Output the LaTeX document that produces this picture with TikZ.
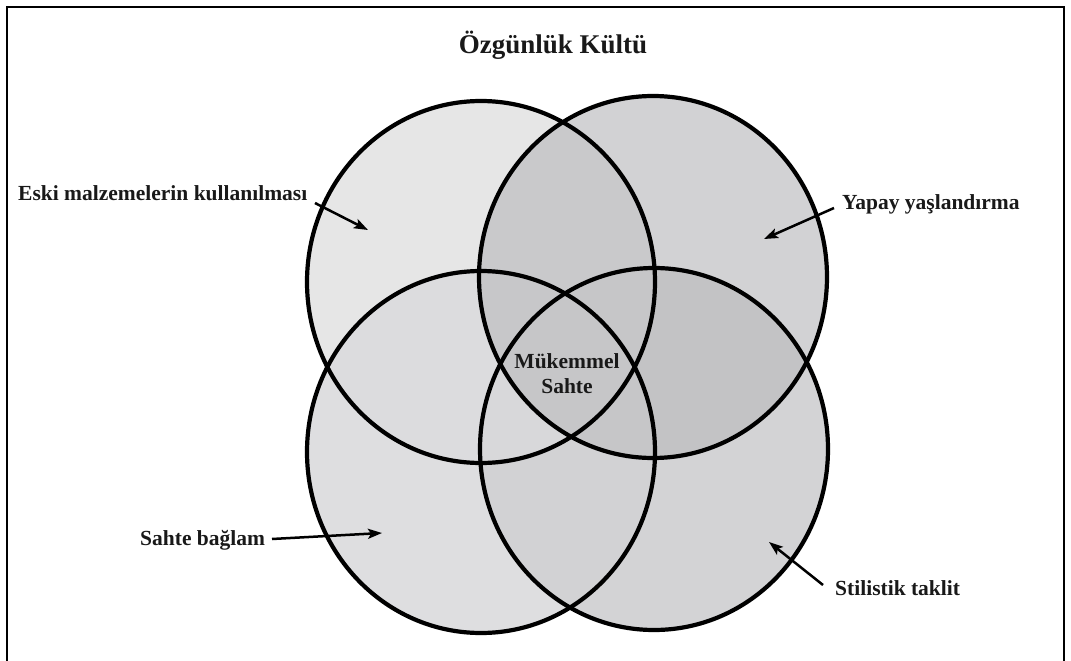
\documentclass[tikz,border=0pt]{standalone}
\usepackage{fontspec}
\setmainfont{Liberation Serif}
\usetikzlibrary{arrows.meta}
\definecolor{cTL}{RGB}{230,230,230}
\definecolor{cTR}{RGB}{210,210,212}
\definecolor{cBL}{RGB}{222,222,224}
\definecolor{cBR}{RGB}{211,211,213}
\definecolor{cTLTR}{RGB}{201,201,203}
\definecolor{cTLBL}{RGB}{220,220,222}
\definecolor{cTLBR}{RGB}{205,205,207}
\definecolor{cTRBL}{RGB}{205,205,207}
\definecolor{cTRBR}{RGB}{195,195,197}
\definecolor{cBLBR}{RGB}{210,210,212}
\definecolor{cTLTRBL}{RGB}{199,199,201}
\definecolor{cTLTRBR}{RGB}{198,198,200}
\definecolor{cTLBLBR}{RGB}{216,216,218}
\definecolor{cTRBLBR}{RGB}{198,198,200}
\definecolor{cALL}{RGB}{198,198,200}
\newcommand\ETL{(481,282) ellipse [x radius=174pt, y radius=181pt]}
\newcommand\ETR{(653,277) ellipse [x radius=174pt, y radius=181pt]}
\newcommand\EBL{(481,452) ellipse [x radius=174pt, y radius=181pt]}
\newcommand\EBR{(654,449) ellipse [x radius=174pt, y radius=181pt]}
\tikzset{
  lbl/.style={font=\fontsize{21.5}{25}\selectfont\bfseries, inner sep=0pt, text=black!90},
  ttl/.style={font=\fontsize{27}{32}\selectfont\bfseries, inner sep=0pt, text=black!90},
  venn/.style={line width=4.2pt, draw=black},
  ptr/.style={line width=2.5pt, -{Stealth[length=14pt,width=10pt,inset=3pt]}},
  frame/.style={line width=1.6pt, draw=black}
}
\begin{document}
\begin{tikzpicture}[x=1pt,y=-1pt]
\useasboundingbox (0,0) rectangle (1071,661);
\fill[white] (0,0) rectangle (1071,661);
% single fills
\fill[cTL] \ETL;
\fill[cTR] \ETR;
\fill[cBL] \EBL;
\fill[cBR] \EBR;
% pairs
\begin{scope}\clip \ETL; \fill[cTLTR] \ETR;\end{scope}
\begin{scope}\clip \ETL; \fill[cTLBL] \EBL;\end{scope}
\begin{scope}\clip \ETL; \fill[cTLBR] \EBR;\end{scope}
\begin{scope}\clip \ETR; \fill[cTRBL] \EBL;\end{scope}
\begin{scope}\clip \ETR; \fill[cTRBR] \EBR;\end{scope}
\begin{scope}\clip \EBL; \fill[cBLBR] \EBR;\end{scope}
% triples
\begin{scope}\clip \ETL; \clip \ETR; \fill[cTLTRBL] \EBL;\end{scope}
\begin{scope}\clip \ETL; \clip \ETR; \fill[cTLTRBR] \EBR;\end{scope}
\begin{scope}\clip \ETL; \clip \EBL; \fill[cTLBLBR] \EBR;\end{scope}
\begin{scope}\clip \ETR; \clip \EBL; \fill[cTRBLBR] \EBR;\end{scope}
% all four
\begin{scope}\clip \ETL; \clip \ETR; \clip \EBL; \fill[cALL] \EBR;\end{scope}
% outlines
\draw[venn] \ETL;
\draw[venn] \ETR;
\draw[venn] \EBL;
\draw[venn] \EBR;
% frame
\draw[frame] (7,664) -- (7,7) -- (1064,7) -- (1064,664);
% texts
\node[ttl] (title) at (553,45) {Özgünlük Kültü};
\node[lbl, anchor=west] (eski) at (18,193) {Eski malzemelerin kullanılması};
\node[lbl, anchor=west] (yapay) at (842,204) {Yapay yaşlandırma};
\node[lbl, anchor=west] (sahte) at (140,540) {Sahte bağlam};
\node[lbl, anchor=west] (stil) at (835,588) {Stilistik taklit};
\node[lbl, align=center, font=\fontsize{21.5}{25}\selectfont\bfseries] (muk) at (567,374) {Mükemmel\\Sahte};
% arrow ends
\coordinate (eskiS) at (315,203);
\coordinate (eskiE) at (368,230);
\coordinate (yapayS) at (834,208);
\coordinate (yapayE) at (764,239);
\coordinate (sahteS) at (272,539);
\coordinate (sahteE) at (382,533);
\coordinate (stilS) at (823,585);
\coordinate (stilE) at (769,542);
\draw[ptr] (eskiS) -- (eskiE);
\draw[ptr] (yapayS) -- (yapayE);
\draw[ptr] (sahteS) -- (sahteE);
\draw[ptr] (stilS) -- (stilE);
\end{tikzpicture}
\end{document}
